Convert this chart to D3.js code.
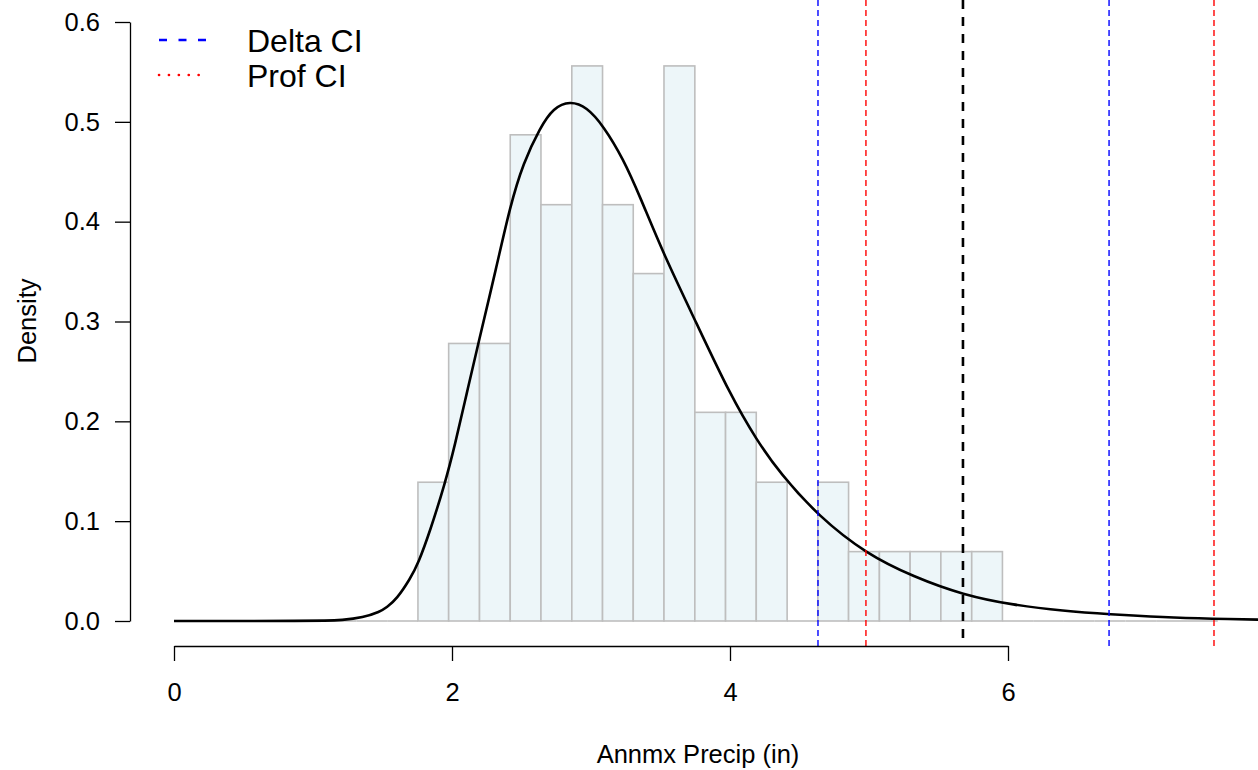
<!DOCTYPE html>
<html>
<head>
<meta charset="utf-8">
<script src="https://cdn.jsdelivr.net/npm/d3@7/dist/d3.min.js"></script>
<style>
  html, body { margin: 0; padding: 0; background: #ffffff; }
  svg { display: block; font-family: "Liberation Sans", Arial, Helvetica, sans-serif; }
</style>
</head>
<body>
<svg id="chart" width="1258" height="770"></svg>
<script>
// ---- data ----
// histogram break points (inches)
const breaks = [1.091, 1.312, 1.534, 1.755, 1.976, 2.198, 2.419, 2.640, 2.862, 3.083,
                3.304, 3.525, 3.747, 3.968, 4.189, 4.411, 4.632, 4.853, 5.075, 5.296,
                5.517, 5.739, 5.960, 6.181, 6.402, 6.624, 6.845, 7.066, 7.288, 7.509];
// histogram densities per bin
const densities = [0, 0, 0, 0.139, 0.278, 0.278, 0.487, 0.417, 0.556, 0.417,
                   0.348, 0.556, 0.209, 0.209, 0.139, 0, 0.139, 0.0695, 0.0695, 0.0695,
                   0.0695, 0.0695, 0, 0, 0, 0, 0, 0, 0];
// fitted density curve (x, density)
const curveX = [0, 0.5, 0.9, 1.1, 1.2, 1.362, 1.482, 1.530, 1.602, 1.698, 1.758, 1.842, 1.950, 2.019,
                2.106, 2.189, 2.321, 2.417, 2.513, 2.633, 2.729, 2.849, 2.969, 3.089, 3.232,
                3.353, 3.520, 3.760, 4.000, 4.192, 4.360, 4.636, 4.983, 5.319, 5.679, 6.038,
                6.398, 6.729, 7.117, 7.477, 7.800, 8.200];
const curveY = [0, 0, 0.00005, 0.0003, 0.0008, 0.0035, 0.0093, 0.0135, 0.022, 0.042, 0.058, 0.090, 0.138, 0.175,
                0.228, 0.278, 0.355, 0.415, 0.459, 0.494, 0.514, 0.521, 0.515, 0.496, 0.463,
                0.425, 0.368, 0.298, 0.227, 0.181, 0.148, 0.105, 0.067, 0.0444, 0.026, 0.016,
                0.010, 0.0067, 0.0037, 0.0022, 0.0013, 0.0008];
// confidence interval bounds and estimate
const deltaCI = [4.633, 6.727];
const profCI = [4.978, 7.482];
const estimate = [5.676];
// axis ticks
const xTicks = [0, 2, 4, 6];
const yTicks = [0, 0.1, 0.2, 0.3, 0.4, 0.5, 0.6];
const legendLabels = ["Delta CI", "Prof CI"];
const xTitle = "Annmx Precip (in)";
const yTitle = "Density";

// ---- layout ----
const svg = d3.select("#chart");
const x = d3.scaleLinear().domain([0, 6]).range([174, 1008]);
const y = d3.scaleLinear().domain([0, 0.6]).range([621, 22]);
const plotLeft = 130, plotTop = -2, plotRight = 1266, plotBottom = 646;

svg.append("defs").append("clipPath").attr("id", "plotclip")
  .append("rect").attr("x", plotLeft).attr("y", plotTop)
  .attr("width", plotRight - plotLeft).attr("height", plotBottom - plotTop);

const plot = svg.append("g").attr("clip-path", "url(#plotclip)");

// histogram
const bins = densities.map((d, i) => ({x0: breaks[i], x1: breaks[i + 1], d: d}));
plot.selectAll("rect.bar").data(bins.filter(b => b.d > 0)).enter().append("rect")
  .attr("class", "bar")
  .attr("x", b => x(b.x0)).attr("width", b => x(b.x1) - x(b.x0))
  .attr("y", b => y(b.d)).attr("height", b => y(0) - y(b.d))
  .attr("fill", "#EDF6F9").attr("stroke", "#BEBEBE").attr("stroke-width", 1.6);
plot.selectAll("line.zero").data(bins.filter(b => b.d === 0)).enter().append("line")
  .attr("class", "zero")
  .attr("x1", b => x(b.x0)).attr("x2", b => x(b.x1))
  .attr("y1", y(0)).attr("y2", y(0))
  .attr("stroke", "#BEBEBE").attr("stroke-width", 1.6);

// density curve
const pts = curveX.map((v, i) => [v, curveY[i]]);
plot.append("path").datum(pts)
  .attr("d", d3.line().x(p => x(p[0])).y(p => y(p[1])).curve(d3.curveBasis))
  .attr("fill", "none").attr("stroke", "#000").attr("stroke-width", 2.6)
  .attr("stroke-linejoin", "round");

// vertical CI lines
function vlines(vals, color, dash, width) {
  plot.selectAll(null).data(vals).enter().append("line")
    .attr("x1", d => x(d)).attr("x2", d => x(d))
    .attr("y1", 0).attr("y2", plotBottom)
    .attr("stroke", color).attr("stroke-width", width)
    .attr("stroke-dasharray", dash);
}
vlines(deltaCI, "#0000FF", "6,4", 1.4);
vlines(profCI, "#FF0000", "6,4", 1.4);
vlines(estimate, "#000000", "9,8", 2.6);

// x axis
const xAxis = d3.axisBottom(x).tickValues(xTicks).tickSize(15).tickSizeOuter(0)
  .tickPadding(22).tickFormat(d3.format("d"));
const gx = svg.append("g").attr("transform", `translate(0,${plotBottom})`).call(xAxis);
gx.select(".domain").attr("stroke", "#000").attr("stroke-width", 1.3);
gx.selectAll(".tick line").attr("stroke", "#000").attr("stroke-width", 1.3);
gx.selectAll(".tick text").attr("font-size", 25.5).attr("fill", "#000")
  .attr("font-family", "Liberation Sans, Arial, sans-serif");

// y axis
const yAxis = d3.axisLeft(y).tickValues(yTicks).tickSize(15).tickSizeOuter(0)
  .tickPadding(15).tickFormat(d3.format(".1f"));
const gy = svg.append("g").attr("transform", `translate(${plotLeft},0)`).call(yAxis);
gy.select(".domain").attr("stroke", "#000").attr("stroke-width", 1.3);
gy.selectAll(".tick line").attr("stroke", "#000").attr("stroke-width", 1.3);
gy.selectAll(".tick text").attr("font-size", 25.5).attr("fill", "#000")
  .attr("font-family", "Liberation Sans, Arial, sans-serif");

// axis titles
svg.append("text").attr("x", 698).attr("y", 763).attr("text-anchor", "middle")
  .attr("font-size", 25.5).text(xTitle);
svg.append("text").attr("transform", "translate(36,321) rotate(-90)")
  .attr("text-anchor", "middle").attr("font-size", 25.5).text(yTitle);

// legend
const legendY = [40, 75];
const legendStyle = [
  {color: "#0000FF", dash: "8,11.5", width: 2.6, cap: "butt"},
  {color: "#FF0000", dash: "0.1,9.8", width: 2.6, cap: "round"}
];
const lg = svg.append("g");
legendLabels.forEach((lab, i) => {
  lg.append("line").attr("x1", 159).attr("x2", 208)
    .attr("y1", legendY[i]).attr("y2", legendY[i])
    .attr("stroke", legendStyle[i].color).attr("stroke-width", legendStyle[i].width)
    .attr("stroke-dasharray", legendStyle[i].dash)
    .attr("stroke-linecap", legendStyle[i].cap);
  lg.append("text").attr("x", 247).attr("y", legendY[i]).attr("dy", "0.36em")
    .attr("font-size", 32).text(lab);
});
</script>
</body>
</html>
